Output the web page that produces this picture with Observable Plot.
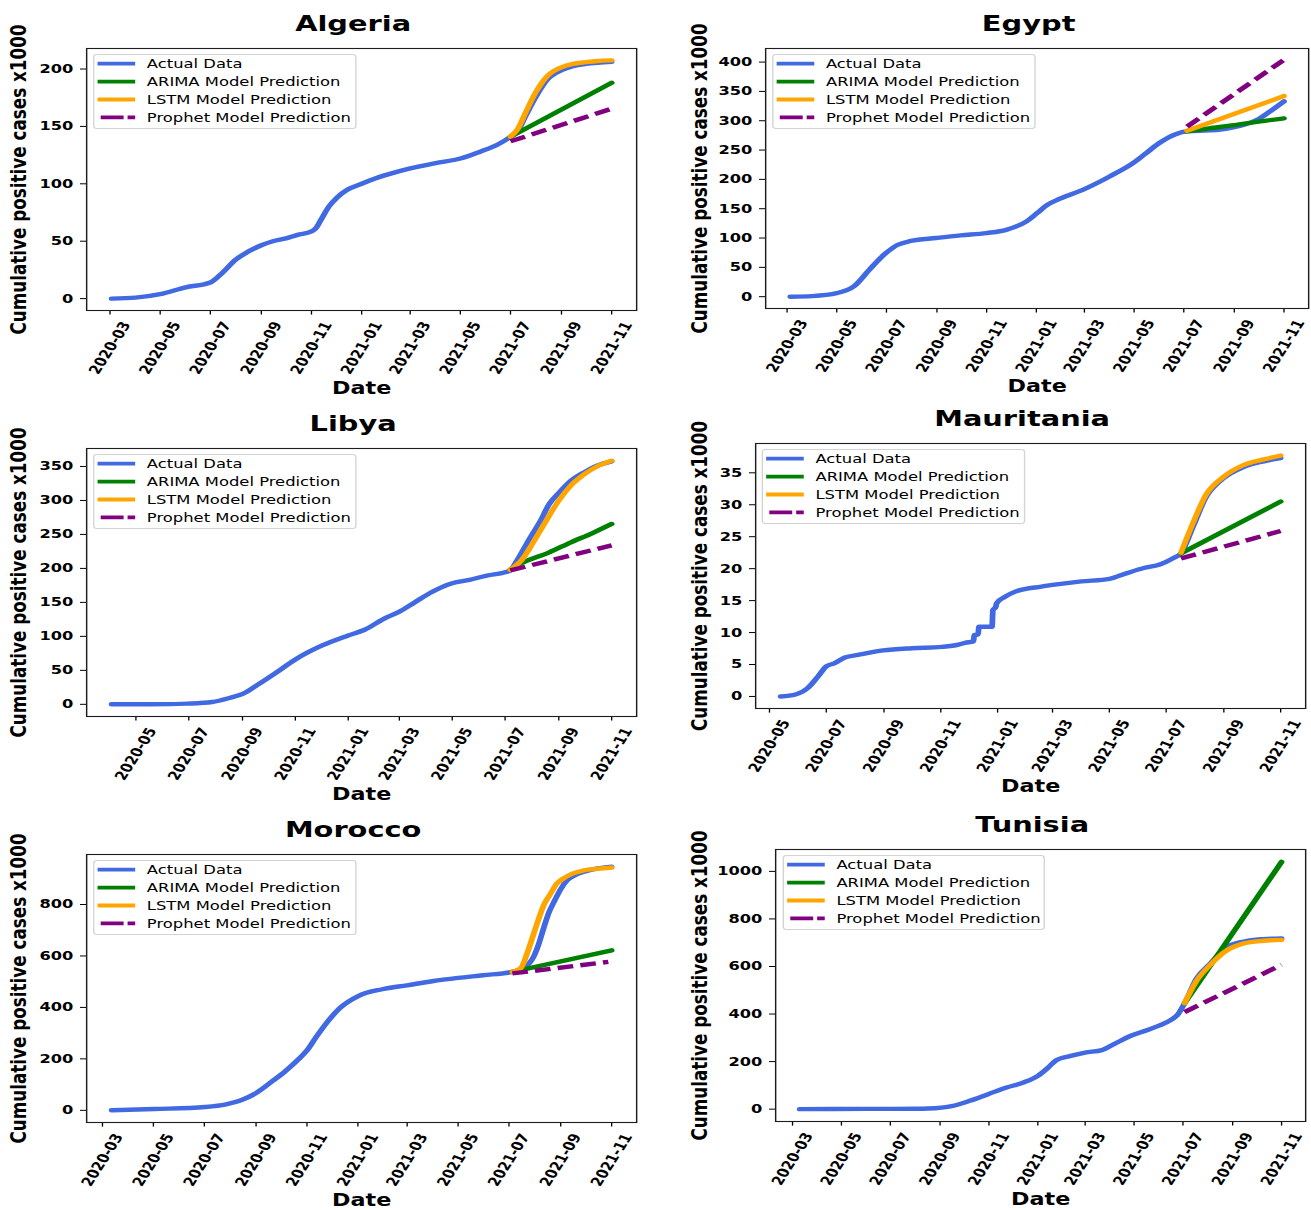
<!DOCTYPE html>
<html><head><meta charset="utf-8">
<script src="https://cdn.jsdelivr.net/npm/d3@7"></script>
<script src="https://cdn.jsdelivr.net/npm/@observablehq/plot@0.6"></script>
<style>
html,body{margin:0;padding:0;background:#fff;}
#stage{position:relative;width:1000px;height:1210px;transform:scaleX(1.311);transform-origin:0 0;font-family:"DejaVu Sans";}
.panel{position:absolute;}
.panel svg{overflow:visible;}
.legend{position:absolute;box-sizing:border-box;width:200.6px;height:75px;border:1px solid #d3d3d3;border-radius:3px;background:rgba(255,255,255,0.85);}
.legend svg{position:absolute;left:-1px;top:-1px;overflow:visible;}
</style></head><body><div id="stage"></div>
<script>
// ---------- tick labels ----------
const xTicksMar = ["2020-03","2020-05","2020-07","2020-09","2020-11","2021-01","2021-03","2021-05","2021-07","2021-09","2021-11"];
const xTicksMay = ["2020-05","2020-07","2020-09","2020-11","2021-01","2021-03","2021-05","2021-07","2021-09","2021-11"];
const yTicksAlgeria = [0,50,100,150,200];
const yTicksEgypt = [0,50,100,150,200,250,300,350,400];
const yTicksLibya = [0,50,100,150,200,250,300,350];
const yTicksMauritania = [0,5,10,15,20,25,30,35];
const yTicksMorocco = [0,200,400,600,800];
const yTicksTunisia = [0,200,400,600,800,1000];
const legendLabels = ["Actual Data","ARIMA Model Prediction","LSTM Model Prediction","Prophet Model Prediction"];

// ---------- Algeria ----------
const algeriaActual = [["2020-03-03",0],["2020-04-01",0.8],["2020-05-01",3.8],["2020-06-01",9.8],["2020-07-01",14],["2020-07-15",22],["2020-08-01",34],["2020-08-15",40.5],["2020-09-01",46.5],["2020-09-15",50],["2020-10-01",52.5],["2020-10-15",55.5],["2020-11-01",58.5],["2020-11-06",61],["2020-11-12",68],["2020-11-22",80],["2020-12-02",88],["2020-12-15",95],["2021-01-01",100],["2021-01-15",104],["2021-02-01",108],["2021-03-01",113.5],["2021-04-01",118],["2021-05-01",122],["2021-05-25",128],["2021-06-15",134],["2021-07-01",141],["2021-07-10",146],["2021-07-20",160],["2021-08-01",176],["2021-08-15",191],["2021-09-01",199],["2021-09-15",202.5],["2021-10-01",204.5],["2021-10-15",205.5],["2021-11-01",206.3]];
const algeriaArima = [["2021-07-01",141],["2021-11-01",188]];
const algeriaLstm = [["2021-07-01",141],["2021-07-10",148],["2021-07-20",163],["2021-08-01",180],["2021-08-15",194],["2021-09-01",201.5],["2021-09-15",204.5],["2021-10-01",206],["2021-10-15",207],["2021-11-01",207.5]];
const algeriaProphet = [["2021-07-01",137],["2021-10-30",165]];

// ---------- Egypt ----------
const egyptActual = [["2020-03-05",0],["2020-04-01",1],["2020-05-01",6],["2020-05-23",18.7],["2020-06-10",46],["2020-06-30",74],["2020-07-15",88.6],["2020-07-31",95],["2020-08-31",100],["2020-09-30",104.5],["2020-11-01",108.5],["2020-11-25",114],["2020-12-20",128.4],["2021-01-02",142.6],["2021-01-14",156],["2021-01-30",167],["2021-03-01",183.5],["2021-04-01",205],["2021-05-01",229],["2021-05-16",245],["2021-06-01",262],["2021-06-21",277],["2021-07-05",282],["2021-08-01",283.5],["2021-08-15",285],["2021-09-01",289],["2021-09-15",294],["2021-10-01",303],["2021-10-15",316],["2021-11-01",333]];
const egyptArima = [["2021-07-05",282],["2021-08-01",287],["2021-09-01",292.5],["2021-10-01",298.5],["2021-11-01",304]];
const egyptLstm = [["2021-07-05",283],["2021-11-01",342]];
const egyptProphet = [["2021-07-05",290],["2021-10-31",403]];

// ---------- Libya ----------
const libyaActual = [["2020-04-03",0],["2020-06-10",0.3],["2020-06-29",1],["2020-07-28",3.4],["2020-08-17",9.3],["2020-09-02",15.7],["2020-09-20",30],["2020-10-09",46],["2020-11-01",66],["2020-12-02",86.6],["2021-01-01",101.3],["2021-01-20",109.7],["2021-02-11",125.8],["2021-02-28",135.6],["2021-03-19",150.3],["2021-04-07",165],["2021-05-01",178.2],["2021-05-21",183.1],["2021-06-10",189.5],["2021-07-01",194.3],["2021-07-07",197],["2021-07-15",212],["2021-07-28",241],["2021-08-10",268],["2021-08-21",294.7],["2021-09-01",311],["2021-09-15",329],["2021-10-01",342],["2021-10-15",351],["2021-11-01",357.5]];
const libyaArima = [["2021-07-07",198],["2021-07-18",206.5],["2021-08-21",223.7],["2021-09-15",238.4],["2021-10-10",252],["2021-11-01",265.4]];
const libyaLstm = [["2021-07-07",198],["2021-07-20",212],["2021-08-01",235],["2021-08-15",265],["2021-09-01",300],["2021-09-15",322],["2021-10-01",339],["2021-10-15",350],["2021-11-01",358.5]];
const libyaProphet = [["2021-07-07",197],["2021-11-01",234]];

// ---------- Mauritania ----------
const mauritaniaActual = [["2020-05-13",0],["2020-05-29",0.3],["2020-06-11",1.3],["2020-06-22",3.1],["2020-07-01",4.7],["2020-07-10",5.2],["2020-07-21",6.1],["2020-08-04",6.5],["2020-08-31",7.2],["2020-10-01",7.55],["2020-11-02",7.75],["2020-11-20",8.1],["2020-11-27",8.4],["2020-12-06",8.6],["2020-12-07",9.6],["2020-12-11",9.7],["2020-12-12",10.9],["2020-12-26",10.9],["2020-12-27",13.5],["2020-12-30",14.0],["2020-12-31",14.6],["2021-01-09",15.6],["2021-01-20",16.4],["2021-02-17",17.2],["2021-03-01",17.45],["2021-04-01",18.0],["2021-05-01",18.4],["2021-05-20",19.3],["2021-06-07",20.1],["2021-06-25",20.7],["2021-07-08",21.6],["2021-07-17",22.4],["2021-07-30",26.6],["2021-08-13",31.25],["2021-08-31",34.1],["2021-09-22",35.9],["2021-10-14",36.8],["2021-11-01",37.3]];
const mauritaniaArima = [["2021-07-17",22.4],["2021-11-01",30.5]];
const mauritaniaLstm = [["2021-07-17",22.5],["2021-07-30",27.2],["2021-08-13",31.6],["2021-08-31",34.3],["2021-09-22",36.2],["2021-10-14",37.1],["2021-11-01",37.7]];
const mauritaniaProphet = [["2021-07-17",21.6],["2021-11-01",25.9]];

// ---------- Morocco ----------
const moroccoActual = [["2020-03-12",0],["2020-05-02",5],["2020-07-02",13],["2020-07-27",23],["2020-08-14",39],["2020-08-31",65],["2020-09-20",112],["2020-10-06",152],["2020-10-21",196],["2020-11-01",233],["2020-11-12",285],["2020-11-25",342],["2020-12-10",396],["2021-01-02",445],["2021-01-30",470.6],["2021-03-01",486],["2021-03-31",501.8],["2021-05-01",514.6],["2021-05-31",525],["2021-07-05",538],["2021-07-15",548],["2021-07-25",570],["2021-07-31",600],["2021-08-06",650],["2021-08-12",713],["2021-08-18",770],["2021-08-25",817],["2021-09-01",860],["2021-09-09",895],["2021-09-20",917],["2021-09-29",927],["2021-10-15",940],["2021-11-01",947]];
const moroccoArima = [["2021-07-05",538],["2021-11-01",622]];
const moroccoLstm = [["2021-07-05",538],["2021-07-15",552],["2021-07-24",622],["2021-07-30",680],["2021-08-05",739],["2021-08-12",800],["2021-08-20",843],["2021-08-27",880],["2021-09-04",901],["2021-09-15",920],["2021-09-29",933],["2021-10-15",939],["2021-11-01",944]];
const moroccoProphet = [["2021-07-05",532],["2021-10-28",577]];

// ---------- Tunisia ----------
const tunisiaActual = [["2020-03-10",0],["2020-06-01",1],["2020-08-01",1.6],["2020-08-17",2.5],["2020-09-17",14],["2020-10-08",35],["2020-10-31",63],["2020-11-23",91],["2020-12-14",112],["2021-01-01",140],["2021-01-14",175],["2021-01-24",206],["2021-02-11",224],["2021-03-01",238],["2021-03-22",248],["2021-04-06",273.5],["2021-04-27",308.5],["2021-05-17",332],["2021-06-02",352],["2021-06-15",373],["2021-06-25",400],["2021-07-03",445],["2021-07-18",550],["2021-08-03",608],["2021-08-24",680],["2021-09-15",705],["2021-10-09",715],["2021-11-01",718]];
const tunisiaArima = [["2021-07-03",445],["2021-11-01",1040]];
const tunisiaLstm = [["2021-07-03",445],["2021-07-18",540],["2021-08-03",603],["2021-08-24",666],["2021-09-15",697],["2021-10-09",708],["2021-11-01",712]];
const tunisiaProphet = [["2021-07-03",408],["2021-11-01",607]];

// ---------- layout (original-pixel frame boxes; x is divided by the horizontal stretch) ----------
const SX = 1.311;
const colors = ["#4169e1","#008000","#ffa500","#800080"];
const panels = [
  {name:"Algeria", series:[algeriaActual,algeriaArima,algeriaLstm,algeriaProphet], yTicks:yTicksAlgeria, xTicks:xTicksMar, col:0, top:0, h:400, frame:[86,636,48,310]},
  {name:"Egypt", series:[egyptActual,egyptArima,egyptLstm,egyptProphet], yTicks:yTicksEgypt, xTicks:xTicksMar, col:1, top:0, h:400, frame:[765,1308,48,308]},
  {name:"Libya", series:[libyaActual,libyaArima,libyaLstm,libyaProphet], yTicks:yTicksLibya, xTicks:xTicksMay, col:0, top:400, h:410, frame:[86,636,448,716]},
  {name:"Mauritania", series:[mauritaniaActual,mauritaniaArima,mauritaniaLstm,mauritaniaProphet], yTicks:yTicksMauritania, xTicks:xTicksMay, col:1, top:400, h:410, frame:[755,1305,443,708]},
  {name:"Morocco", series:[moroccoActual,moroccoArima,moroccoLstm,moroccoProphet], yTicks:yTicksMorocco, xTicks:xTicksMar, col:0, top:810, h:400, frame:[86,636,854,1122]},
  {name:"Tunisia", series:[tunisiaActual,tunisiaArima,tunisiaLstm,tunisiaProphet], yTicks:yTicksTunisia, xTicks:xTicksMar, col:1, top:810, h:400, frame:[775,1305,849,1121]}
];

const stage = document.getElementById("stage");
const parseD = s => new Date(s.length === 7 ? s + "-01T00:00:00Z" : s + "T00:00:00Z");

for (const p of panels) {
  const colLeft = p.col ? 500 : 0, colW = 500;
  const fl = p.frame[0] / SX, fr = p.frame[1] / SX, ft = p.frame[2], fb = p.frame[3];
  const labelX = (p.col ? 691 : 9.5) / SX;
  const rows = p.series.map(s => s.map(([d, v]) => ({date: parseD(d), value: v})));
  const all = rows.flat();
  const [x0, x1] = d3.extent(all, d => +d.date);
  const [y0, y1] = d3.extent(all, d => d.value);
  const xpad = (x1 - x0) * 0.05, ypad = (y1 - y0) * 0.05;
  const tickDates = p.xTicks.map(parseD);

  const lineMarks = rows.map((r, i) => Plot.line(r, {
    x: "date", y: "value", stroke: colors[i], strokeWidth: 4.4,
    curve: "monotone-x",
    strokeDasharray: i === 3 ? "12,5.5" : null,
    strokeLinecap: i === 3 ? "butt" : "round"
  }));

  const chart = Plot.plot({
    width: colW, height: p.h,
    marginLeft: fl - colLeft, marginRight: colLeft + colW - fr,
    marginTop: ft - p.top, marginBottom: p.top + p.h - fb,
    x: {type: "utc", domain: [new Date(x0 - xpad), new Date(x1 + xpad)]},
    y: {domain: [y0 - ypad, y1 + ypad]},
    style: {fontFamily: "DejaVu Sans", fontSize: "12.2px", fontWeight: "bold", color: "#000", background: "transparent", overflow: "visible"},
    marks: [
      Plot.axisY({ticks: p.yTicks, tickSize: 4.6, tickPadding: 5.5, tickFormat: d => String(d), label: null, fontSize: 12.4}),
      Plot.axisX({ticks: tickDates, tickSize: 4.6, tickFormat: () => "", label: null}),
      Plot.text(p.xTicks, {x: d => parseD(d), text: d => d, frameAnchor: "bottom", rotate: -64, textAnchor: "middle", lineAnchor: "middle", dy: 37.5, fontSize: 12.4, fill: "#000"}),
      ...lineMarks,
      Plot.frame({stroke: "#1c1c1c", strokeWidth: 1.1}),
      Plot.text([p.name], {text: d => d, frameAnchor: "top", lineAnchor: "bottom", dy: -18, dx: -6.5, fontSize: 22, fill: "#000"}),
      Plot.text(["Cumulative positive cases x1000"], {text: d => d, frameAnchor: "left", rotate: -90, textAnchor: "middle", lineAnchor: "top", dx: labelX - fl, fontSize: 16.8, fill: "#000"}),
      Plot.text(["Date"], {text: d => d, frameAnchor: "bottom", lineAnchor: "top", dy: 71, fontSize: 17, fill: "#000"})
    ]
  });
  const div = document.createElement("div");
  div.className = "panel";
  div.style.left = colLeft + "px";
  div.style.top = p.top + "px";
  div.style.width = colW + "px";
  div.appendChild(chart);
  stage.appendChild(div);

  // legend box (matplotlib style, upper left inside the frame)
  const leg = document.createElement("div");
  leg.className = "legend";
  leg.style.left = (fl + 7.3 / SX) + "px";
  leg.style.top = (ft + 6) + "px";
  let svg = '<svg width="200.6" height="75" xmlns="http://www.w3.org/2000/svg" style="font-family:DejaVu Sans;font-size:12.5px">';
  legendLabels.forEach((lab, i) => {
    const y = 9.7 + i * 17.9;
    if (i === 3) {
      svg += `<line x1="5.8" x2="32.1" y1="${y}" y2="${y}" stroke="${colors[i]}" stroke-width="3.8" stroke-dasharray="17.5,3,6"/>`;
    } else {
      svg += `<line x1="3.4" x2="32.1" y1="${y}" y2="${y}" stroke="${colors[i]}" stroke-width="3.8"/>`;
    }
    svg += `<text x="41" y="${y + 4.5}" fill="#000">${lab}</text>`;
  });
  svg += "</svg>";
  leg.innerHTML = svg;
  stage.appendChild(leg);
}
</script></body></html>
